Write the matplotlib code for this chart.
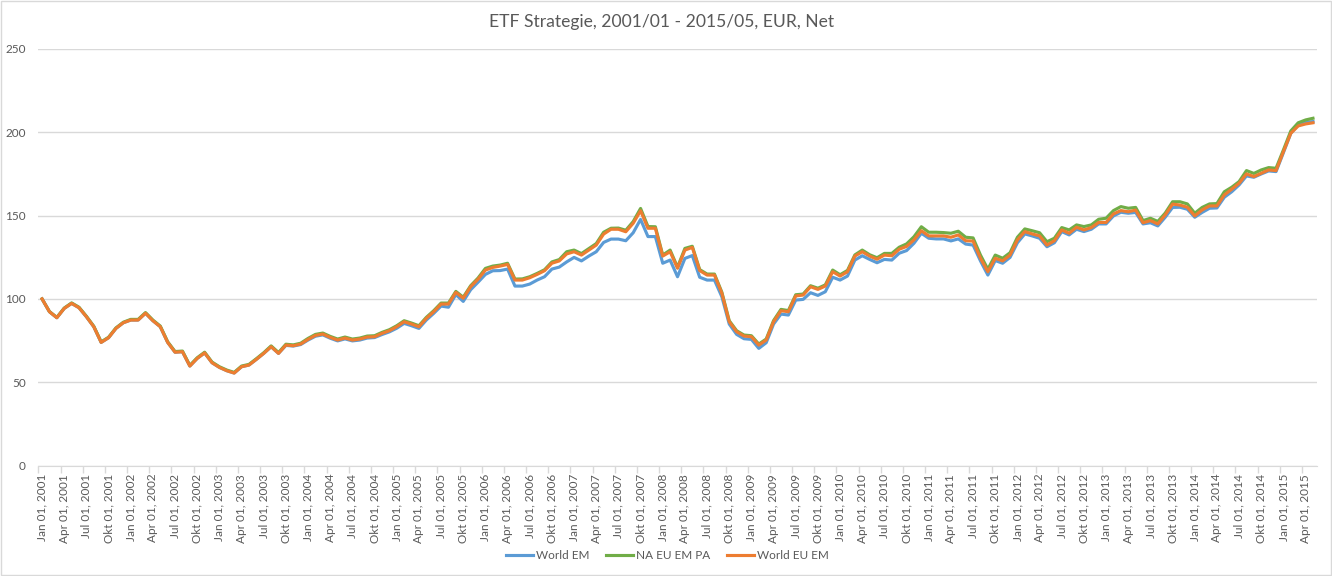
import matplotlib.pyplot as plt
import numpy as np
from matplotlib.patches import Rectangle

# Monatswerte Jan 2001 - Mai 2015 (indexiert, Start = 100)
world_em = [
    100.0, 92.3, 88.7, 94.3, 97.3, 94.7, 89.3, 83.3, 73.9, 76.7, 82.3, 85.7,
    87.3, 87.3, 91.4, 86.9, 83.3, 73.9, 68.0, 68.3, 59.7, 64.3, 67.6, 61.7,
    58.9, 56.9, 55.5, 59.3, 60.3, 63.7, 67.3, 71.3, 67.3, 72.1, 71.7, 72.6,
    75.3, 77.6, 78.4, 76.4, 74.8, 76.0, 74.8, 75.3, 76.5, 76.8, 78.6, 80.2,
    82.4, 85.3, 83.9, 82.3, 87.3, 91.3, 95.7, 95.0, 102.6, 98.5, 105.5, 110.0,
    114.7, 116.9, 117.0, 117.9, 107.7, 107.7, 108.9, 111.3, 113.3, 117.9, 119.1, 122.2,
    124.9, 122.8, 125.7, 128.3, 133.9, 135.9, 135.9, 134.9, 139.7, 147.7, 137.4, 137.4,
    121.4, 123.3, 113.3, 124.3, 126.0, 113.0, 111.3, 111.3, 101.3, 84.9, 78.7, 76.1,
    75.7, 70.3, 73.7, 84.9, 90.9, 90.3, 99.3, 99.7, 103.7, 102.1, 104.3, 113.0,
    111.3, 113.7, 123.3, 125.9, 123.7, 121.7, 123.7, 123.3, 127.4, 129.0, 133.4, 139.4,
    136.4, 136.0, 136.0, 134.8, 136.0, 132.9, 132.3, 122.8, 114.3, 123.0, 121.4, 124.9,
    133.7, 139.0, 137.8, 136.4, 131.3, 133.7, 140.4, 138.4, 141.8, 140.4, 141.8, 145.0,
    145.0, 149.8, 152.0, 151.4, 151.9, 145.0, 145.7, 143.8, 149.0, 154.9, 155.0, 153.8,
    149.0, 151.9, 154.4, 154.6, 161.0, 164.3, 168.4, 173.8, 173.0, 175.0, 176.8, 176.4,
    187.8, 199.4, 204.4, 206.0, 206.4,
]
na_eu_em_pa = [
    100.0, 92.4, 88.9, 94.5, 97.6, 95.0, 89.6, 83.6, 74.2, 77.0, 82.6, 86.0,
    87.7, 87.7, 91.8, 87.3, 83.7, 74.3, 68.4, 68.7, 60.1, 64.7, 68.0, 62.1,
    59.3, 57.3, 55.9, 59.7, 60.7, 64.1, 67.7, 71.8, 67.8, 72.8, 72.4, 73.4,
    76.3, 78.7, 79.5, 77.5, 75.9, 77.1, 75.9, 76.5, 77.7, 77.9, 79.9, 81.5,
    83.9, 86.9, 85.5, 83.9, 88.9, 92.9, 97.5, 97.5, 104.5, 101.0, 107.9, 112.5,
    118.3, 119.7, 120.3, 121.4, 111.9, 112.0, 113.3, 115.3, 117.5, 122.2, 123.6, 128.3,
    129.3, 127.2, 130.2, 133.2, 140.0, 142.4, 142.5, 141.2, 146.4, 154.3, 143.4, 143.3,
    126.3, 129.3, 119.0, 130.3, 131.6, 117.6, 114.9, 114.9, 104.0, 86.9, 80.9, 78.3,
    77.9, 72.9, 75.9, 87.0, 93.7, 93.0, 102.5, 102.9, 107.9, 106.4, 108.4, 117.3,
    114.5, 117.1, 126.4, 129.3, 126.5, 124.7, 127.3, 127.3, 131.0, 133.0, 137.3, 143.3,
    140.0, 140.0, 139.8, 139.4, 140.6, 137.0, 136.6, 126.3, 117.8, 126.3, 124.4, 127.7,
    137.0, 142.0, 140.9, 139.7, 134.3, 136.4, 142.8, 141.4, 144.4, 143.4, 144.4, 147.8,
    148.4, 153.0, 155.4, 154.4, 154.9, 147.0, 148.4, 146.5, 151.5, 158.3, 158.3, 157.0,
    151.4, 154.9, 157.0, 157.2, 164.3, 167.0, 170.4, 177.0, 175.3, 177.4, 178.8, 178.4,
    189.4, 200.8, 205.7, 207.4, 208.4,
]
world_eu_em = [
    100.0, 92.3, 88.7, 94.3, 97.3, 94.7, 89.3, 83.3, 73.9, 76.7, 82.3, 85.7,
    87.3, 87.3, 91.4, 86.9, 83.3, 73.9, 68.0, 68.3, 59.7, 64.3, 67.6, 61.7,
    58.9, 56.9, 55.5, 59.3, 60.3, 63.7, 67.3, 71.3, 67.3, 72.3, 71.9, 72.9,
    75.7, 78.1, 78.9, 76.9, 75.3, 76.5, 75.3, 75.9, 77.1, 77.3, 79.3, 80.9,
    83.3, 86.3, 84.9, 83.3, 88.3, 92.3, 96.9, 96.9, 103.9, 100.4, 107.3, 111.8,
    117.3, 118.9, 119.7, 120.7, 111.3, 111.3, 112.7, 114.7, 116.9, 121.4, 122.8, 127.0,
    128.3, 126.3, 129.3, 132.3, 138.9, 141.8, 141.8, 140.3, 145.4, 152.9, 142.4, 142.4,
    125.7, 128.3, 118.4, 129.3, 130.9, 117.0, 114.3, 114.3, 103.4, 86.3, 80.3, 77.7,
    77.3, 72.3, 75.3, 86.3, 92.9, 92.3, 101.8, 102.3, 107.3, 105.7, 107.7, 116.3,
    113.7, 116.3, 125.7, 128.3, 125.7, 123.8, 126.3, 125.9, 129.8, 131.5, 135.4, 140.9,
    137.8, 137.8, 137.8, 137.0, 138.4, 134.9, 134.7, 124.4, 116.3, 124.4, 122.8, 126.3,
    135.4, 140.4, 139.0, 137.8, 132.3, 134.9, 141.4, 139.4, 143.0, 141.4, 142.8, 145.9,
    145.9, 151.0, 153.0, 152.3, 153.3, 145.7, 147.0, 145.0, 150.4, 156.9, 156.3, 155.0,
    149.8, 153.4, 155.8, 155.8, 162.4, 165.8, 169.4, 175.0, 173.4, 175.4, 177.4, 177.0,
    188.4, 199.4, 203.8, 205.0, 205.7,
]
serien = ["World EM", "NA EU EM PA", "World EU EM"]
farben = ["#5B9BD5", "#70AD47", "#ED7D31"]
quartal_monate = ["Jan", "Apr", "Jul", "Okt"]
jahre = list(range(2001, 2016))

plt.rcParams['font.family'] = ['Lato', 'DejaVu Sans']
grau = "#595959"

fig = plt.figure(figsize=(13.32, 5.76), dpi=100)
ax = fig.add_axes([0.0288, 0.1918, 0.9597, 0.7232])

x = np.arange(len(world_em))
for werte, name, c in zip([world_em, na_eu_em_pa, world_eu_em], serien, farben):
    ax.plot(x, werte, color=c, lw=2.25, label=name, solid_joinstyle='round')

ax.set_xlim(-0.5, len(x) - 0.5)
ax.set_ylim(0, 250)
ax.set_yticks(np.arange(0, 251, 50))
ax.grid(axis='y', color='#d9d9d9', lw=1)
ax.set_axisbelow(True)

# x-Beschriftung: jedes Quartal
labels = [f"{m} 01, {j}" for j in jahre for m in quartal_monate]
pos = np.arange(0, len(x), 3)
ax.set_xticks(pos)
ax.set_xticklabels(labels[:len(pos)], rotation=90, va='top', ha='center')
ax.set_xticks(pos - 0.5, minor=True)
ax.tick_params(axis='x', which='major', length=0, pad=6, labelsize=8.5, labelcolor=grau)
ax.tick_params(axis='x', which='minor', length=5, color='#d9d9d9', width=1)
ax.tick_params(axis='y', length=0, pad=9, labelsize=8.5, labelcolor=grau)

for s in ['top', 'right', 'left']:
    ax.spines[s].set_visible(False)
ax.spines['bottom'].set_color('#d9d9d9')

fig.text(0.497, 0.962, "ETF Strategie, 2001/01 - 2015/05, EUR, Net",
         ha='center', va='center', fontsize=12.6, color=grau)
fig.legend(loc='center', bbox_to_anchor=(0.501, 0.036), ncol=3, frameon=False,
           fontsize=8.5, labelcolor=grau, handlelength=2.3, columnspacing=1.4,
           handletextpad=0.25)

fig.patches.append(Rectangle((0.0005, 0.001), 0.999, 0.998, transform=fig.transFigure,
                             fill=False, edgecolor='#d9d9d9', lw=1))

fig.savefig("out.png", dpi=100)
